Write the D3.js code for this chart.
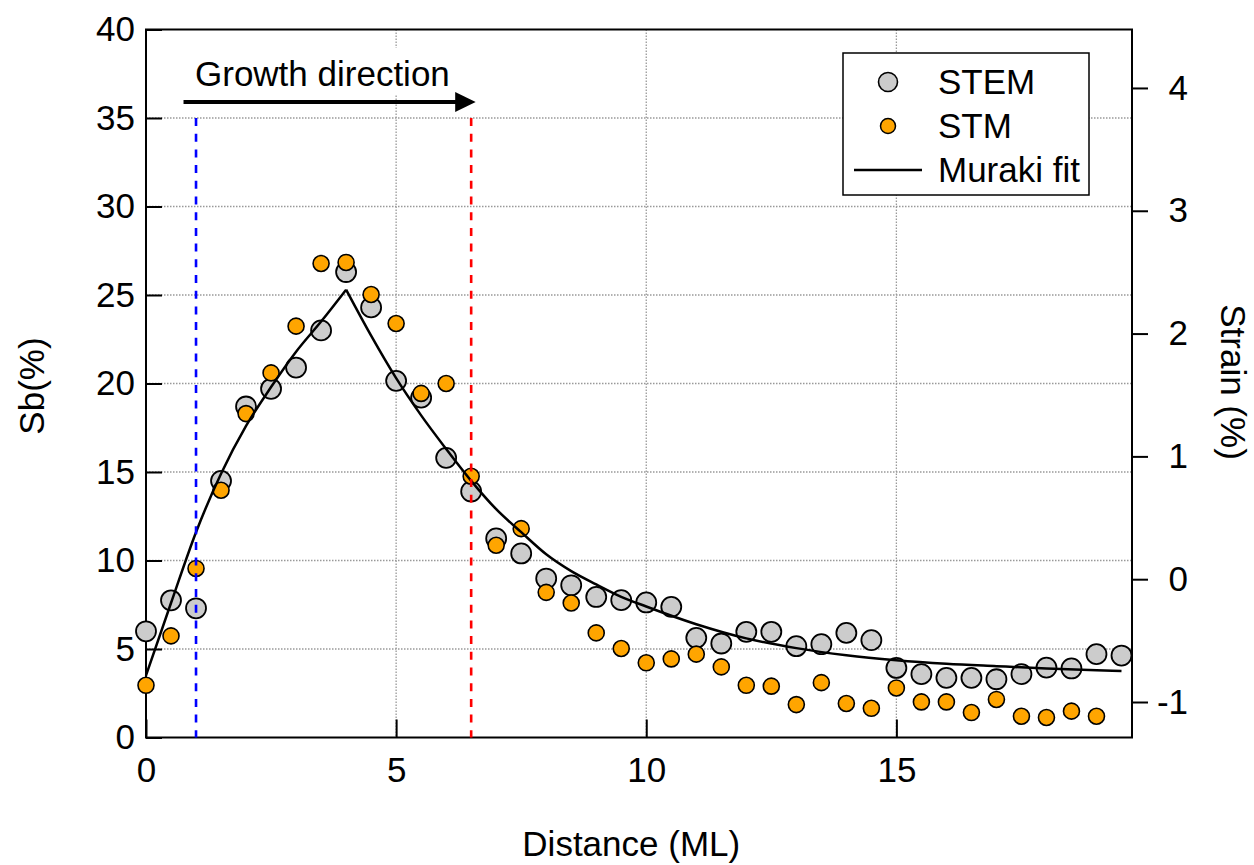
<!DOCTYPE html>
<html>
<head>
<meta charset="utf-8">
<script src="https://cdn.jsdelivr.net/npm/d3@7"></script>
<style>
  body { margin: 0; background: #fff; }
  svg { display: block; font-family: "Liberation Sans", Arial, sans-serif; }
</style>
</head>
<body>
<svg id="chart" width="1254" height="865"></svg>
<script>
// distances (ML) for each measured point
const stemX = [0, 0.5, 1, 1.5, 2, 2.5, 3, 3.5, 4, 4.5, 5, 5.5, 6, 6.5, 7, 7.5, 8, 8.5, 9, 9.5,
  10, 10.5, 11, 11.5, 12, 12.5, 13, 13.5, 14, 14.5, 15, 15.5, 16, 16.5, 17, 17.5, 18, 18.5, 19, 19.5];
const stemSb = [6.0, 7.75, 7.3, 14.5, 18.7, 19.7, 20.9, 23.0, 26.3, 24.3, 20.15, 19.2, 15.8, 13.9, 11.25, 10.4, 8.98, 8.6, 7.94, 7.76,
  7.63, 7.38, 5.63, 5.31, 5.97, 5.97, 5.16, 5.27, 5.91, 5.5, 3.93, 3.58, 3.37, 3.37, 3.29, 3.58, 3.95, 3.9, 4.71, 4.63];

const stmX = [0, 0.5, 1, 1.5, 2, 2.5, 3, 3.5, 4, 4.5, 5, 5.5, 6, 6.5, 7, 7.5, 8, 8.5, 9, 9.5,
  10, 10.5, 11, 11.5, 12, 12.5, 13, 13.5, 14, 14.5, 15, 15.5, 16, 16.5, 17, 17.5, 18, 18.5, 19];
const stmSb = [2.95, 5.74, 9.55, 13.97, 18.3, 20.6, 23.24, 26.78, 26.84, 25.03, 23.39, 19.44, 20.0, 14.76, 10.86, 11.8, 8.2, 7.6, 5.91, 5.03,
  4.22, 4.44, 4.71, 3.99, 2.95, 2.9, 1.86, 3.1, 1.92, 1.65, 2.8, 2.01, 2.01, 1.41, 2.15, 1.2, 1.13, 1.49, 1.2];

// Muraki fit (growth part, then decay part)
const fitRiseX = [0, 0.5, 1, 1.5, 2, 2.5, 3, 3.5, 4];
const fitRiseSb = [3.5, 7.6, 11.6, 14.9, 17.6, 19.8, 21.8, 23.5, 25.3];
const fitDecayX = [4, 4.5, 5, 5.5, 6, 6.5, 7, 7.5, 8, 8.5, 9, 9.5, 10, 11, 12, 13, 14, 15, 16, 17, 18, 19, 19.5];
const fitDecaySb = [25.3, 22.7, 20.3, 18.2, 16.3, 14.5, 12.9, 11.6, 10.35, 9.4, 8.65, 7.95, 7.4, 6.4, 5.6, 5.05, 4.65, 4.37, 4.17, 4.03, 3.9, 3.8, 3.76];

const xTicks = [0, 5, 10, 15];
const yTicks = [0, 5, 10, 15, 20, 25, 30, 35, 40];
const strainTicks = [-1, 0, 1, 2, 3, 4];
const markerLines = [1, 6.5];
const markerColors = ['#0000ff', '#ff0000'];
const legendLabels = ['STEM', 'STM', 'Muraki fit'];

const svg = d3.select('#chart');
const pLeft = 146, pRight = 1132, pTop = 29.5, pBottom = 737.5;

const x = d3.scaleLinear().domain([0, 19.71]).range([pLeft, pRight]);
const y = d3.scaleLinear().domain([0, 40]).range([pBottom, pTop]);
const y2 = d3.scaleLinear().domain([-1.289, 4.476]).range([pBottom, pTop]);

const fontSize = 35;
const font = '"Liberation Sans", Arial, sans-serif';

// grid
const grid = svg.append('g')
  .attr('stroke', '#999')
  .attr('stroke-width', 1.3)
  .attr('stroke-dasharray', '1.5,1.5');
yTicks.filter(d => d > 0 && d < 40).forEach(d => {
  grid.append('line')
    .attr('x1', pLeft).attr('x2', pRight)
    .attr('y1', y(d)).attr('y2', y(d));
});
xTicks.filter(d => d > 0).forEach(d => {
  grid.append('line')
    .attr('x1', x(d)).attr('x2', x(d))
    .attr('y1', pTop).attr('y2', pBottom);
});

// frame
svg.append('rect')
  .attr('x', pLeft).attr('y', pTop)
  .attr('width', pRight - pLeft).attr('height', pBottom - pTop)
  .attr('fill', 'none').attr('stroke', '#000').attr('stroke-width', 2);

// left axis: inward ticks
const yAxis = svg.append('g')
  .attr('transform', `translate(${pLeft},0)`)
  .call(d3.axisLeft(y).tickValues(yTicks).tickSize(-16).tickPadding(11).tickFormat(d => String(d)));
yAxis.select('.domain').remove();
yAxis.selectAll('line').attr('stroke-width', 2);
yAxis.selectAll('text').attr('font-size', fontSize).attr('fill', '#000').attr('font-family', font);

// bottom axis: inward ticks
const xAxis = svg.append('g')
  .attr('transform', `translate(0,${pBottom})`)
  .call(d3.axisBottom(x).tickValues(xTicks).tickSize(-18).tickPadding(20).tickFormat(d => String(d)));
xAxis.select('.domain').remove();
xAxis.selectAll('line').attr('stroke-width', 2);
xAxis.selectAll('text').attr('font-size', fontSize).attr('fill', '#000').attr('font-family', font);

// right axis: outward ticks
const rAxis = svg.append('g')
  .attr('transform', `translate(${pRight},0)`)
  .call(d3.axisRight(y2).tickValues(strainTicks).tickSize(16).tickPadding(0).tickFormat(d => String(d)));
rAxis.select('.domain').remove();
rAxis.selectAll('line').attr('stroke-width', 2);
rAxis.selectAll('text').attr('font-size', fontSize).attr('fill', '#000').attr('font-family', font)
  .attr('text-anchor', 'end').attr('x', 56);

// axis titles
svg.append('text')
  .attr('x', x(9.7)).attr('y', 856)
  .attr('text-anchor', 'middle').attr('font-size', fontSize)
  .text('Distance (ML)');
svg.append('text')
  .attr('transform', 'translate(44,386) rotate(-90)')
  .attr('text-anchor', 'middle').attr('font-size', fontSize)
  .text('Sb(%)');
svg.append('text')
  .attr('transform', 'translate(1221,382) rotate(90)')
  .attr('text-anchor', 'middle').attr('font-size', fontSize)
  .text('Strain (%)');

// STEM points
svg.append('g').selectAll('circle')
  .data(stemX.map((d, i) => [d, stemSb[i]]))
  .join('circle')
  .attr('cx', d => x(d[0])).attr('cy', d => y(d[1]))
  .attr('r', 10)
  .attr('fill', '#cccccc').attr('stroke', '#000').attr('stroke-width', 1.8);

// STM points
svg.append('g').selectAll('circle')
  .data(stmX.map((d, i) => [d, stmSb[i]]))
  .join('circle')
  .attr('cx', d => x(d[0])).attr('cy', d => y(d[1]))
  .attr('r', 8)
  .attr('fill', '#ffa500').attr('stroke', '#000').attr('stroke-width', 1.6);

// Muraki fit
const line = d3.line().x(d => x(d[0])).y(d => y(d[1])).curve(d3.curveMonotoneX);
[[fitRiseX, fitRiseSb], [fitDecayX, fitDecaySb]].forEach(([xs, ys]) => {
  svg.append('path')
    .attr('d', line(xs.map((d, i) => [d, ys[i]])))
    .attr('fill', 'none').attr('stroke', '#000').attr('stroke-width', 2.5);
});

// dashed markers
markerLines.forEach((d, i) => {
  svg.append('line')
    .attr('x1', x(d)).attr('x2', x(d))
    .attr('y1', y(35)).attr('y2', y(0))
    .attr('stroke', markerColors[i]).attr('stroke-width', 2.6)
    .attr('stroke-dasharray', '8,7.7');
});

// growth direction label and arrow
svg.append('rect')
  .attr('x', 190).attr('y', 48).attr('width', 270).attr('height', 46)
  .attr('fill', '#fff');
svg.append('text')
  .attr('x', 195).attr('y', 86)
  .attr('font-size', fontSize)
  .text('Growth direction');
svg.append('line')
  .attr('x1', x(0.75)).attr('x2', x(6.2))
  .attr('y1', y(35.9)).attr('y2', y(35.9))
  .attr('stroke', '#000').attr('stroke-width', 4);
svg.append('path')
  .attr('d', `M${x(6.18)},${y(35.9) - 10}L${x(6.59)},${y(35.9)}L${x(6.18)},${y(35.9) + 10}Z`)
  .attr('fill', '#000');

// legend
const lg = svg.append('g');
lg.append('rect')
  .attr('x', 843).attr('y', 53).attr('width', 246).attr('height', 142)
  .attr('fill', '#fff').attr('stroke', '#000').attr('stroke-width', 1.5);
lg.append('circle').attr('cx', 888).attr('cy', 82).attr('r', 9.5)
  .attr('fill', '#cccccc').attr('stroke', '#000').attr('stroke-width', 1.6);
lg.append('circle').attr('cx', 888).attr('cy', 126).attr('r', 7.5)
  .attr('fill', '#ffa500').attr('stroke', '#000').attr('stroke-width', 1.5);
lg.append('line').attr('x1', 854).attr('x2', 922).attr('y1', 170).attr('y2', 170)
  .attr('stroke', '#000').attr('stroke-width', 2.5);
legendLabels.forEach((t, i) => {
  lg.append('text')
    .attr('x', 938).attr('y', 94 + i * 44)
    .attr('font-size', fontSize)
    .text(t);
});
</script>
</body>
</html>
